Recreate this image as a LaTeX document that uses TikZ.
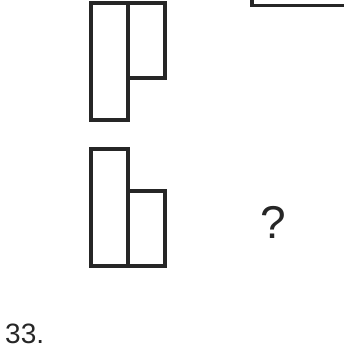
\documentclass[tikz,border=0pt]{standalone}
\usepackage{fontspec}
\setmainfont{Liberation Sans}
\begin{document}
\begin{tikzpicture}[x=1pt,y=-1pt,
  fig/.style={draw=black!85,line width=3.2pt,line join=miter},
  lbl/.style={inner sep=0pt,text=black!85}]
\useasboundingbox (0,0) rectangle (343,351);
% top figure
\draw[fig] (91,3) rectangle (128,120);
\draw[fig] (128,3) rectangle (165,78);
% bottom figure
\draw[fig] (91,149) rectangle (128,266);
\draw[fig] (128,191) rectangle (165,266);
% top-right partial shape
\draw[fig] (252,-3) -- (252,5.5) -- (346,5.5);
% question mark
\node[lbl,font=\fontsize{46}{46}\selectfont] (q) at (273,222) {?};
% label
\node[lbl,font=\fontsize{28}{28}\selectfont,anchor=base west] (n) at (5,343) {33.};
\end{tikzpicture}
\end{document}
